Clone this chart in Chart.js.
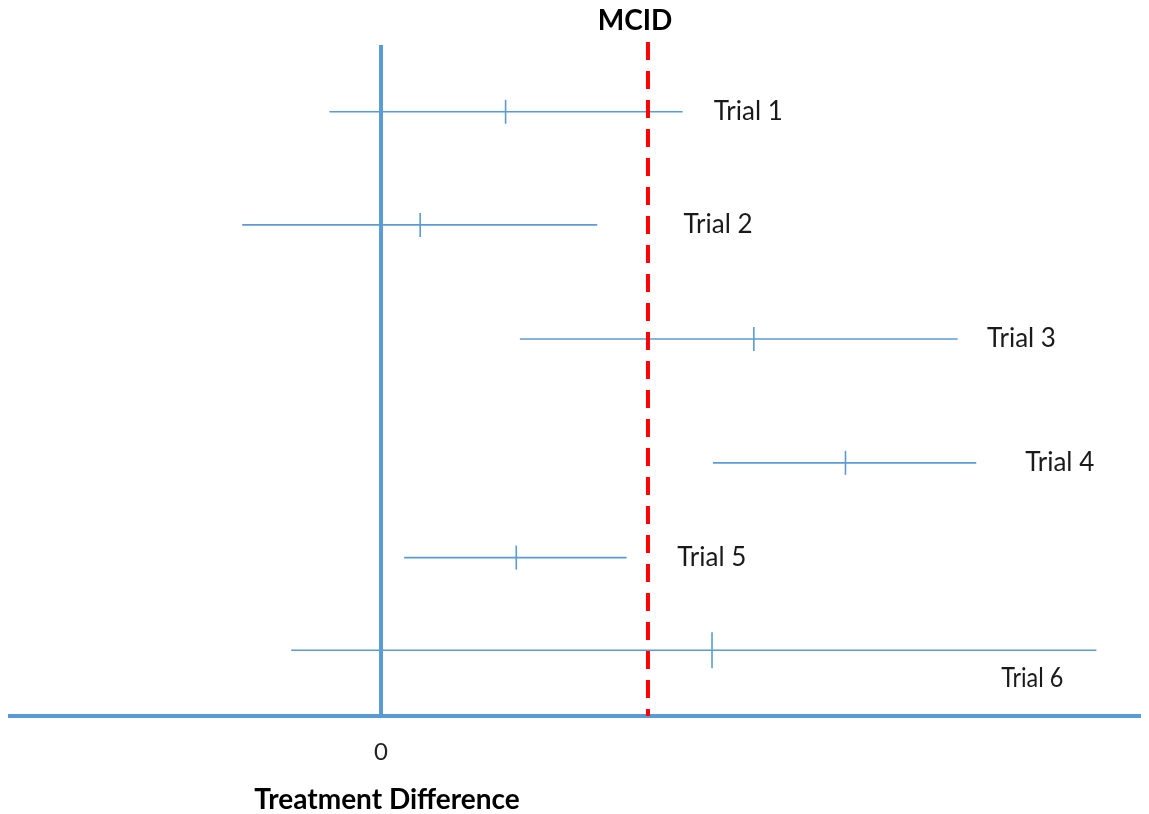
<!DOCTYPE html>
<html>
<head>
<meta charset="utf-8">
<script src="https://cdn.jsdelivr.net/npm/chart.js@4/dist/chart.umd.min.js"></script>
<style>
  html, body { margin: 0; padding: 0; background: #ffffff; }
  canvas { display: block; }
</style>
</head>
<body>
<canvas id="forest" width="1149" height="814"></canvas>
<script>
// Trial results: confidence interval bounds and point estimate of the treatment difference
const trials   = ['Trial 1', 'Trial 2', 'Trial 3', 'Trial 4', 'Trial 5', 'Trial 6'];
const lower    = [-0.58, -1.56, 1.56, 3.73, 0.26, -1.01];
const estimate = [ 1.40,  0.44, 4.19, 5.22, 1.52,  3.72];
const upper    = [ 3.39,  2.43, 6.48, 6.69, 2.76,  8.04];

// Minimal clinically important difference and the single labelled tick on the x axis
const mcid = 3;
const xTickValues = [0];
const xTickLabels = ['0'];

// ---- layout (row placement, label anchors, extents) ----
const rowY = [1, 2.05, 3.11, 4.26, 5.14, 6];
const yMin = 0.333, yMax = 6.611;
const xMin = -4.17, xMax = 8.53;
const labelAnchor = [
  { x: 3.74, y: 1.0  },
  { x: 3.40, y: 2.05 },
  { x: 6.81, y: 3.11 },
  { x: 7.24, y: 4.26 },
  { x: 3.33, y: 5.14 },
  { x: 6.97, y: 6.26, narrow: true }
];

const BLUE = '#5b9bd5';
const RED = '#ff0000';
const FONT = 'Lato, "Open Sans", "Liberation Sans", sans-serif';

const datasets = [];

// Reference line at zero difference
datasets.push({
  data: [{ x: 0, y: 0.38 }, { x: 0, y: yMax }],
  showLine: true, borderColor: BLUE, borderWidth: 4,
  pointRadius: 0, clip: false, order: 3
});

// MCID threshold
datasets.push({
  data: [{ x: mcid, y: 0.352 }, { x: mcid, y: yMax }],
  showLine: true, borderColor: RED, borderWidth: 4, borderDash: [18, 11],
  pointRadius: 0, clip: false, order: 1
});

// Confidence interval segments
trials.forEach((t, i) => {
  datasets.push({
    label: t,
    data: [{ x: lower[i], y: rowY[i] }, { x: upper[i], y: rowY[i] }],
    showLine: true, borderColor: BLUE, borderWidth: 1.6,
    pointRadius: 0, clip: false, order: 2
  });
});

// Point estimates as short vertical ticks
datasets.push({
  data: estimate.map((v, i) => ({ x: v, y: rowY[i] })),
  showLine: false,
  pointStyle: 'line',
  pointRotation: 90,
  pointRadius: [12, 12, 12, 12, 12, 18],
  pointBorderColor: BLUE,
  pointBorderWidth: 1.6,
  borderColor: BLUE,
  clip: false, order: 2
});

// Text annotations: MCID caption, trial names, axis title
const annotationText = {
  id: 'annotationText',
  afterDraw(chart) {
    const { ctx, scales: { x, y } } = chart;
    ctx.save();
    ctx.fillStyle = '#000000';
    ctx.textBaseline = 'middle';

    ctx.font = 'bold 28px ' + FONT;
    ctx.textAlign = 'center';
    ctx.fillText('MCID', x.getPixelForValue(mcid) - 13, 21);

    ctx.fillStyle = '#1a1a1a';
    ctx.font = '26px ' + FONT;
    ctx.textAlign = 'left';
    trials.forEach((t, i) => {
      const a = labelAnchor[i];
      const px = x.getPixelForValue(a.x);
      const py = y.getPixelForValue(a.y);
      if (a.narrow) {
        ctx.save();
        ctx.translate(px, py);
        ctx.scale(0.9, 1.05);
        ctx.fillText(t, 0, 0);
        ctx.restore();
      } else {
        ctx.fillText(t, px, py);
      }
    });

    ctx.fillStyle = '#000000';
    ctx.font = 'bold 28px ' + FONT;
    ctx.textAlign = 'center';
    ctx.fillText('Treatment Difference', x.getPixelForValue(0) + 6, 800);
    ctx.restore();
  }
};

new Chart(document.getElementById('forest'), {
  type: 'scatter',
  data: { datasets },
  options: {
    responsive: false,
    animation: false,
    devicePixelRatio: 1,
    layout: { autoPadding: false, padding: { top: 40, left: 10, right: 9, bottom: 0 } },
    plugins: { legend: { display: false }, tooltip: { enabled: false } },
    scales: {
      x: {
        type: 'linear',
        min: xMin, max: xMax,
        position: 'bottom',
        grid: { display: true, color: 'rgba(0,0,0,0)', drawTicks: false },
        border: { display: true, color: BLUE, width: 4 },
        afterBuildTicks: (s) => { s.ticks = xTickValues.map(v => ({ value: v })); },
        afterFit: (s) => { s.height = 98; },
        ticks: {
          padding: 22,
          color: '#222222',
          font: { family: FONT, size: 24 },
          maxRotation: 0,
          callback: (v) => {
            const k = xTickValues.indexOf(v);
            return k >= 0 ? xTickLabels[k] : '';
          }
        }
      },
      y: {
        type: 'linear',
        display: false,
        reverse: true,
        min: yMin, max: yMax
      }
    }
  },
  plugins: [annotationText]
});
</script>
</body>
</html>
